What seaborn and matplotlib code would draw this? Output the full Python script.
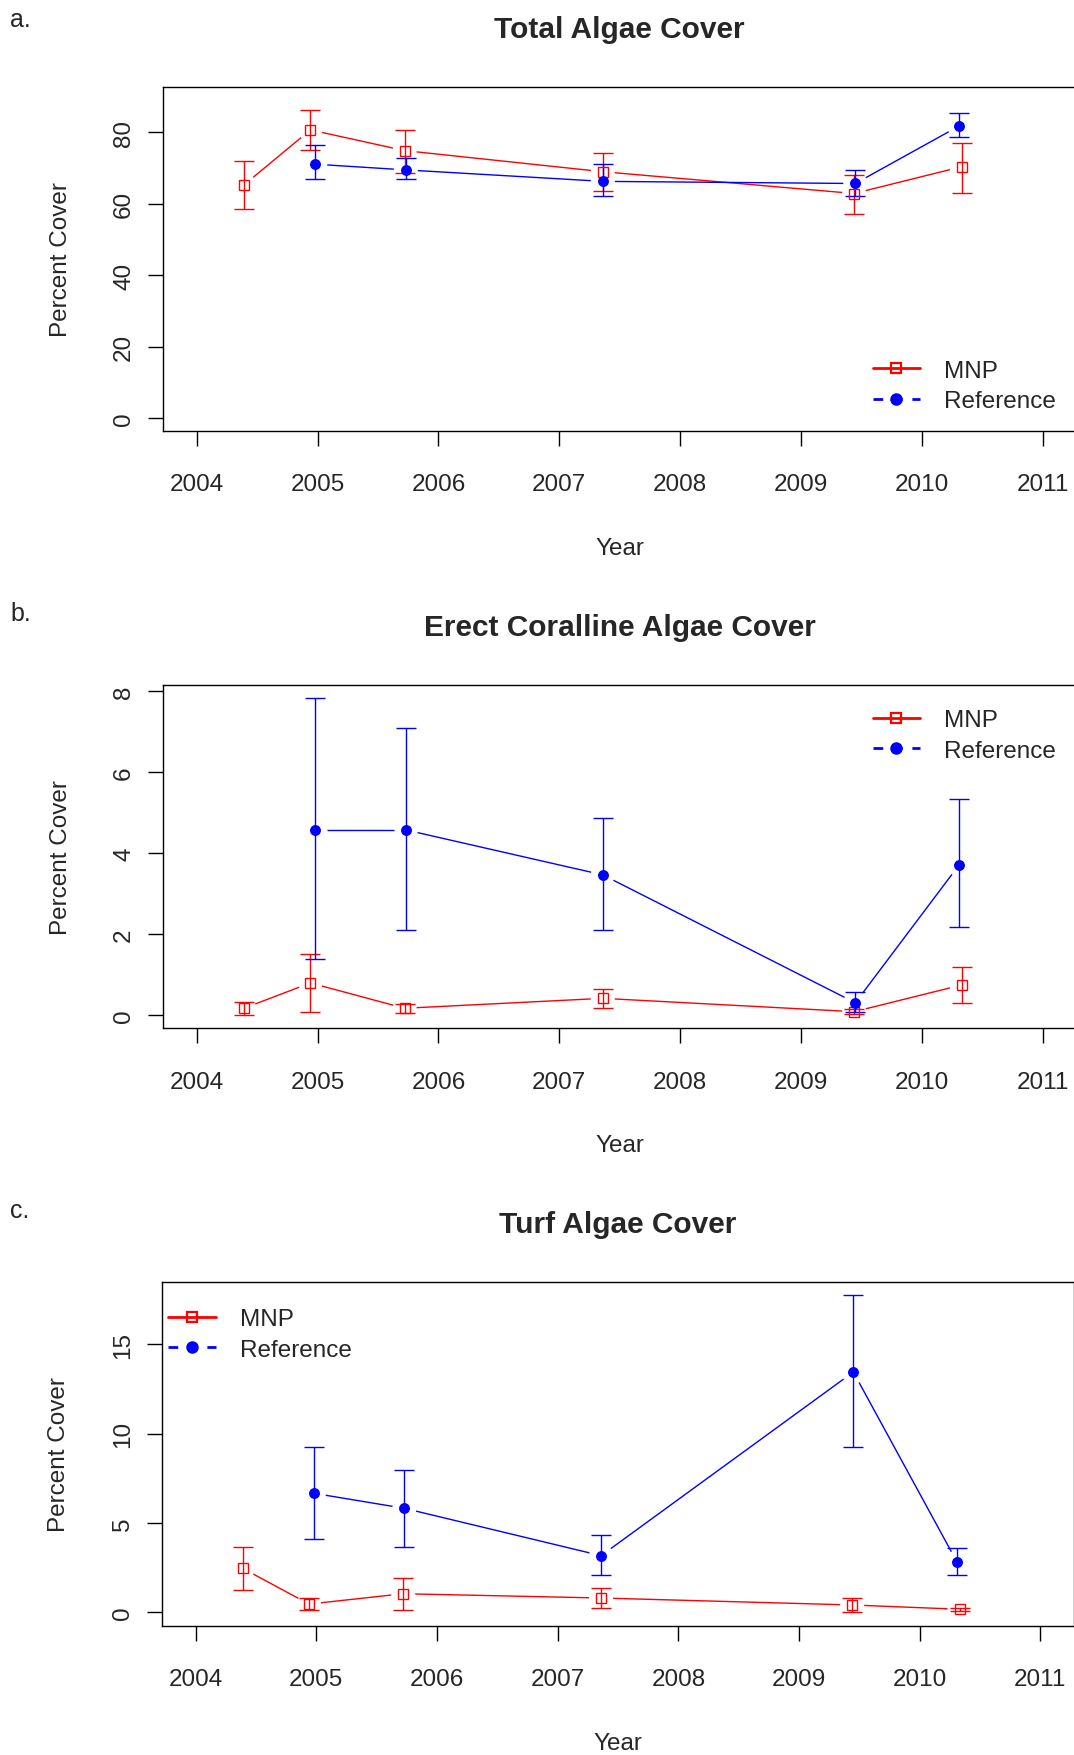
import numpy as np
import pandas as pd
import matplotlib
matplotlib.use("Agg")
import matplotlib.pyplot as plt
from matplotlib.lines import Line2D
import seaborn as sns

# ---------------- data ----------------
mnp_year = [2004.39, 2004.94, 2005.72, 2007.36, 2009.44, 2010.33]
ref_year = [2004.98, 2005.73, 2007.36, 2009.45, 2010.31]

# a. Total algae
tot_mnp = [65.3, 80.7, 74.9, 69.0, 62.9, 70.4]
tot_mnp_lo = [58.6, 75.1, 68.6, 63.7, 57.2, 63.1]
tot_mnp_hi = [72.0, 86.2, 80.6, 74.3, 68.2, 77.0]
tot_ref = [71.1, 69.5, 66.3, 65.7, 81.8]
tot_ref_lo = [67.0, 67.0, 62.3, 62.3, 78.8]
tot_ref_hi = [76.5, 72.8, 71.1, 69.6, 85.3]

# b. Erect coralline algae
ec_mnp = [0.165, 0.79, 0.165, 0.41, 0.08, 0.74]
ec_mnp_lo = [0.0, 0.08, 0.04, 0.165, 0.02, 0.29]
ec_mnp_hi = [0.32, 1.50, 0.28, 0.64, 0.15, 1.18]
ec_ref = [4.57, 4.57, 3.46, 0.30, 3.71]
ec_ref_lo = [1.38, 2.11, 2.11, 0.08, 2.16]
ec_ref_hi = [7.83, 7.10, 4.87, 0.56, 5.33]

# c. Turf algae
tf_mnp = [2.46, 0.46, 1.04, 0.80, 0.41, 0.17]
tf_mnp_lo = [1.26, 0.15, 0.15, 0.24, 0.0, 0.10]
tf_mnp_hi = [3.67, 0.78, 1.92, 1.36, 0.80, 0.25]
tf_ref = [6.66, 5.82, 3.17, 13.45, 2.80]
tf_ref_lo = [4.12, 3.67, 2.10, 9.27, 2.10]
tf_ref_hi = [9.27, 7.98, 4.33, 17.77, 3.60]

x_ticks = [2004, 2005, 2006, 2007, 2008, 2009, 2010, 2011]
panel_letters = ["a.", "b.", "c."]
titles = ["Total Algae Cover", "Erect Coralline Algae Cover", "Turf Algae Cover"]
y_ticks = [[0, 20, 40, 60, 80], [0, 2, 4, 6, 8], [0, 5, 10, 15]]
series_names = ["MNP", "Reference"]

# ---------------- style ----------------
sns.set_theme(style="white")
plt.rcParams["font.family"] = ["Liberation Sans", "DejaVu Sans"]
FS = 17.5

W, H = 1074, 1756
fig = plt.figure(figsize=(W / 100, H / 100), dpi=100)

# axes boxes in pixels: left, top, right, bottom
boxes = [(163, 88, 1076.4, 432), (163, 686, 1076.4, 1029.3), (161.8, 1283.3, 1074.2, 1626.7)]
ylims = [(-3.55, 92.7), (-0.33, 8.15), (-0.75, 18.47)]
legend_anchor = [("center left", 0.777, 0.131), ("center left", 0.777, 0.853), ("center left", 0.007, 0.848)]
letter_y = [20, 614, 1211]

panels = [
    (tot_mnp, tot_mnp_lo, tot_mnp_hi, tot_ref, tot_ref_lo, tot_ref_hi),
    (ec_mnp, ec_mnp_lo, ec_mnp_hi, ec_ref, ec_ref_lo, ec_ref_hi),
    (tf_mnp, tf_mnp_lo, tf_mnp_hi, tf_ref, tf_ref_lo, tf_ref_hi),
]

RED, BLUE = "#ff0000", "#0000ff"
GAP = 12  # pixels gap around points (R type="b")


def gapped_line(ax, xs, ys, color):
    pts = ax.transData.transform(np.column_stack([xs, ys]))
    inv = ax.transData.inverted()
    for p0, p1 in zip(pts[:-1], pts[1:]):
        d = np.hypot(*(p1 - p0))
        if d <= 2 * GAP:
            continue
        u = (p1 - p0) / d
        seg = inv.transform(np.vstack([p0 + GAP * u, p1 - GAP * u]))
        ax.plot(seg[:, 0], seg[:, 1], color=color, lw=1.0, zorder=2, solid_capstyle="butt")


for i, (data, box) in enumerate(zip(panels, boxes)):
    l, t, r, b = box
    ax = fig.add_axes([l / W, 1 - b / H, (r - l) / W, (b - t) / H])
    ax.set_xlim(2003.72, 2011.28)
    ax.set_ylim(*ylims[i])
    m, mlo, mhi, rf, rlo, rhi = data
    m, mlo, mhi, rf, rlo, rhi = map(np.asarray, (m, mlo, mhi, rf, rlo, rhi))

    gapped_line(ax, mnp_year, m, RED)
    gapped_line(ax, ref_year, rf, BLUE)

    ax.errorbar(mnp_year, m, yerr=[m - mlo, mhi - m], fmt="none", ecolor=RED,
                elinewidth=1.0, capsize=7.4, capthick=1.0, zorder=3)
    ax.errorbar(ref_year, rf, yerr=[rf - rlo, rhi - rf], fmt="none", ecolor=BLUE,
                elinewidth=1.0, capsize=7.4, capthick=1.0, zorder=3)

    ax.plot(mnp_year, m, "s", mfc="none", mec=RED, ms=7.5, mew=1.0, zorder=4)
    df = pd.DataFrame({"year": ref_year, "val": rf})
    sns.scatterplot(data=df, x="year", y="val", ax=ax, color=BLUE, marker="o",
                    s=62, linewidth=0, zorder=4, legend=False)

    ax.set_xticks(x_ticks)
    ax.set_xticklabels([str(v) for v in x_ticks], fontsize=FS)
    ax.set_yticks(y_ticks[i])
    ax.set_yticklabels([str(v) for v in y_ticks[i]], fontsize=FS, rotation=90, va="center")
    ax.tick_params(axis="x", direction="out", length=10.5, width=1.0, pad=20, color="black",
                   bottom=True)
    ax.tick_params(axis="y", direction="out", length=10.5, width=1.0, pad=9.5, color="black",
                   left=True)
    for s in ax.spines.values():
        s.set_color("black")
        s.set_linewidth(1.0)
    ax.set_xlabel("Year", fontsize=FS, labelpad=30)
    ax.set_ylabel("Percent Cover", fontsize=FS, labelpad=30)
    ax.set_title(titles[i], fontsize=21.5, fontweight="bold", pad=36)
    ax.grid(False)

    handles = [
        Line2D([], [], color=RED, lw=2, marker="s", mfc="none", mec=RED, ms=7.5, mew=1.6),
        Line2D([], [], color=BLUE, lw=2, ls=(0, (3.5, 3.5)), marker="o", mfc=BLUE, mec=BLUE, ms=8),
    ]
    loc, ax_x, ax_y = legend_anchor[i]
    ax.legend(handles, series_names, loc=loc, bbox_to_anchor=(ax_x, ax_y), frameon=False,
              fontsize=FS, borderpad=0, borderaxespad=0, handlelength=1.95,
              handletextpad=1.0, labelspacing=0.35)

    fig.text(10 / W, 1 - letter_y[i] / H, panel_letters[i], fontsize=18, ha="left", va="center")

fig.savefig("out.png", dpi=100, facecolor="white")
